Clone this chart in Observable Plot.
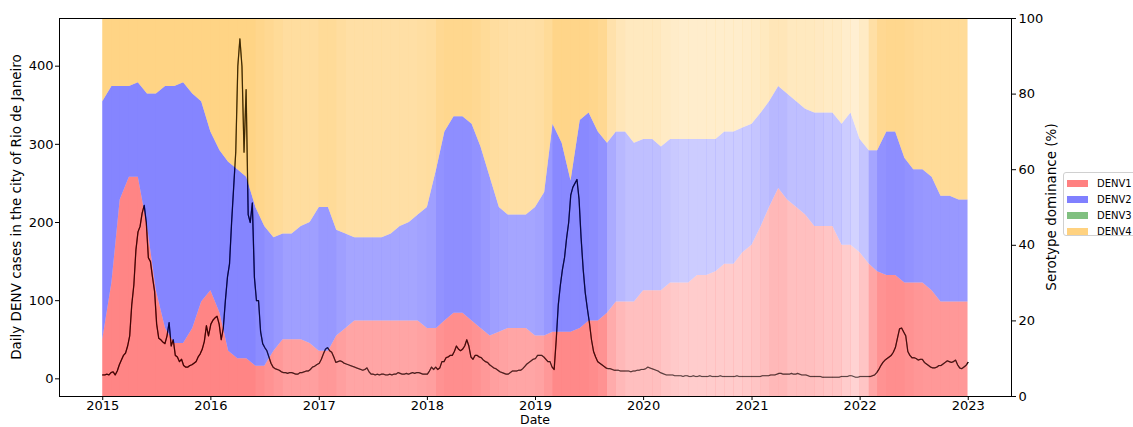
<!DOCTYPE html>
<html><head><meta charset="utf-8">
<script src="https://cdn.jsdelivr.net/npm/d3@7"></script>
<script src="https://cdn.jsdelivr.net/npm/@observablehq/plot@0.6"></script>
<style>
body{margin:0;background:#fff;overflow:hidden;font-family:"DejaVu Sans",sans-serif;}
#wrap{position:relative;width:1133px;height:427px;overflow:hidden;}
.layer{position:absolute;left:0;top:0;}
.lbl{position:absolute;font-size:13.5px;color:#000;white-space:nowrap;line-height:1;}
.rot{transform:translate(-50%,-50%) rotate(-90deg);}
.hc{transform:translate(-50%,-50%);font-size:12.5px;}
#legend{position:absolute;left:1063px;top:172px;width:90px;height:64px;border:1px solid #d0d0d0;border-radius:3px;background:#fff;padding-top:2px;box-sizing:border-box;}
.row{height:16px;display:flex;align-items:center;padding-left:3px;font-size:10px;color:#000;}
.sw{width:21px;height:7px;margin-right:9px;}
</style></head><body>
<div id="wrap"></div>
<script>
// ---------- data ----------
const years = [2015, 2016, 2017, 2018, 2019, 2020, 2021, 2022];
const serotypes = ["DENV1", "DENV2", "DENV3", "DENV4"];
const serotypeColors = ["red", "blue", "green", "orange"];
const leftTicks = [0, 100, 200, 300, 400];
const rightTicks = [0, 20, 40, 60, 80, 100];
const yearTicks = [2015, 2016, 2017, 2018, 2019, 2020, 2021, 2022, 2023];

// daily DENV cases, sampled weekly from Jan 1 of each year
const cases2015 = [5,5,6,5,8,9,5,10,18,24,30,33,42,55,95,120,165,188,195,212,222,200,155,150,130,112,70,52,50,47,45,55,72,42,50,30,28,22,25,17,15,15,17,18,20,22,28,32,38,48,68,55];
const cases2016 = [70,75,78,80,70,50,65,100,130,147,200,245,290,400,435,400,290,370,210,200,225,130,100,100,60,45,40,36,28,20,15,13,12,11,9,8,8,7,8,8,7,6,6,8,8,9,10,10,12,15,16,18];
const cases2017 = [20,25,32,38,40,36,34,28,21,22,23,22,20,19,18,17,16,15,14,13,12,11,12,14,9,6,6,5,6,5,6,6,5,5,6,5,6,6,8,7,6,6,7,6,7,8,7,8,8,7,6,6];
const cases2018 = [6,10,15,12,15,12,14,22,22,27,28,30,30,35,42,38,36,38,42,50,42,28,25,30,30,28,27,24,22,21,18,16,14,13,11,9,8,7,6,6,8,10,10,10,11,11,13,16,19,21,23,25];
const cases2019 = [26,30,30,30,28,25,22,22,15,12,50,95,120,140,155,180,200,235,245,250,255,230,180,140,110,90,72,50,35,28,22,20,18,16,14,13,13,12,11,11,11,10,10,10,10,10,9,10,10,11,11,12];
const cases2020 = [12,13,15,14,13,12,11,10,8,7,6,5,5,5,5,4,4,4,4,3,4,4,3,3,4,3,3,4,3,3,3,3,4,3,3,3,3,4,3,3,3,3,3,3,3,4,3,3,3,3,3,3];
const cases2021 = [3,3,3,3,3,4,4,4,4,5,5,5,6,7,7,6,6,6,6,7,6,6,7,6,5,5,5,4,3,3,3,3,3,3,2,2,2,2,2,2,2,2,2,3,3,3,3,4,4,3,2,2];
const cases2022 = [3,3,3,3,3,3,4,5,8,12,17,21,24,26,28,30,34,40,52,64,65,60,55,35,30,27,27,26,24,25,25,21,19,17,15,14,14,15,17,17,19,21,23,22,21,22,24,18,14,13,15,17,21];
const casesByYear = [cases2015, cases2016, cases2017, cases2018, cases2019, cases2020, cases2021, cases2022];

// serotype dominance (%), at the start of each month Jan 2015 .. Dec 2022, plus 31 Dec 2022
const denv1 = [
 15,30,52,58,58,45,28,18,14,14,18,25,
 28,22,12,10,10,8,8,12,15,15,15,14,
 12,12,16,18,20,20,20,20,20,20,20,20,
 18,18,20,22,22,20,18,16,17,18,18,18,
 16,16,17,17,17,18,20,20,22,25,25,25,
 28,28,28,30,30,30,32,32,33,35,35,38,
 40,45,50,55,52,50,48,45,45,45,40,40,
 38,35,33,32,32,30,30,30,28,25,25,25, 25];
const denv2 = [
 63,52,30,24,25,35,52,64,68,69,62,53,
 42,43,50,50,48,42,37,30,28,28,30,32,
 38,38,28,25,22,22,22,22,23,25,26,28,
 32,42,50,52,52,52,48,42,33,30,30,30,
 34,38,55,50,40,55,55,50,45,45,45,42,
 40,40,38,38,38,38,36,36,35,35,35,33,
 32,30,28,27,28,28,28,30,30,30,32,35,
 30,30,32,38,38,33,30,30,30,28,28,27, 27];
const denv3 = [
 0,0,0,0,0,0,0,0,0,0,0,0,
 0,0,0,0,0,0,0,0,0,0,0,0,
 0,0,0,0,0,0,0,0,0,0,0,0,
 0,0,0,0,0,0,0,0,0,0,0,0,
 0,0,0,0,0,0,0,0,0,0,0,0,
 0,0,0,0,0,0,0,0,0,0,0,0,
 0,0,0,0,0,0,0,0,0,0,0,0,
 0,0,0,0,0,0,0,0,0,0,0,0, 0];
const denv4 = [
 22,18,18,18,17,20,20,18,18,17,20,22,
 30,35,38,40,42,50,55,58,57,57,55,54,
 50,50,56,57,58,58,58,58,57,55,54,52,
 50,40,30,26,26,28,34,42,50,52,52,52,
 50,46,28,33,43,27,25,30,33,30,30,33,
 32,32,34,32,32,32,32,32,32,30,30,29,
 28,25,22,18,20,22,24,25,25,25,28,25,
 32,35,35,30,30,37,40,40,42,47,47,48, 48];
// share of days in each month that carry serotype data
const coverage = [
 .95,.95,.95,.95,.95,.95,.95,.95,.95,.95,.95,.95,
 .95,.95,.95,.95,.95,.9,.85,.8,.75,.75,.75,.75,
 .8,.8,.75,.7,.7,.7,.7,.7,.7,.7,.7,.72,
 .75,.85,.88,.88,.88,.85,.8,.75,.72,.7,.7,.7,
 .72,.8,.92,.92,.92,.92,.9,.85,.65,.55,.5,.5,
 .5,.5,.45,.42,.4,.4,.4,.4,.4,.4,.4,.42,
 .45,.5,.55,.55,.5,.5,.5,.48,.45,.45,.4,.35,
 .45,.7,.85,.88,.88,.85,.82,.8,.8,.8,.8,.8];

// ---------- tables ----------
const casesData = years.flatMap((y, i) => casesByYear[i].map((v, k) => ({
  date: d3.utcDay.offset(new Date(Date.UTC(y, 0, 1)), 7 * k), value: v })));
const monthDates = d3.utcMonth.range(new Date(Date.UTC(2015, 0, 1)), new Date(Date.UTC(2023, 0, 1)));
monthDates.push(new Date(Date.UTC(2022, 11, 31)));
const seroArrays = [denv1, denv2, denv3, denv4];
const comp = serotypes.flatMap((s, j) => monthDates.map((d, i) => ({date: d, serotype: s, pct: seroArrays[j][i]})));
const haze = monthDates.slice(0, -1).map((d, i) => ({x1: d, x2: monthDates[i + 1], cov: coverage[i]}));

// ---------- layout ----------
const W = 1133, H = 427;
const common = {
  width: W, height: H, marginLeft: 59, marginRight: 122, marginTop: 18, marginBottom: 31,
  style: {fontFamily: "DejaVu Sans, sans-serif", fontSize: "13px", background: "transparent", color: "black"}
};
const xDomain = [new Date(Date.UTC(2014, 7, 8)), new Date(Date.UTC(2023, 4, 27))];
const yCases = [-22.6, 461];

const layer1 = Plot.plot({
  ...common,
  x: {type: "utc", domain: xDomain},
  y: {domain: yCases},
  marks: [
    Plot.axisX(yearTicks.map(y => new Date(Date.UTC(y, 0, 1))), {tickFormat: d3.utcFormat("%Y"), tickSize: 4, tickPadding: 0, label: null}),
    Plot.axisY(leftTicks, {tickSize: 4, tickPadding: 2, label: null}),
    Plot.line(casesData, {x: "date", y: "value", stroke: "black", strokeWidth: 1.3})
  ]
});

const layer2 = Plot.plot({
  ...common,
  x: {type: "utc", domain: xDomain, axis: null},
  y: {domain: [0, 100]},
  color: {domain: serotypes, range: serotypeColors},
  marks: [
    Plot.areaY(comp, Plot.stackY({x: "date", y: "pct", fill: "serotype", order: serotypes, fillOpacity: 0.5})),
    Plot.rect(haze, {x1: "x1", x2: "x2", fill: "white", fillOpacity: d => 1 - d.cov}),
    Plot.axisY(rightTicks, {anchor: "right", tickSize: 4, tickPadding: 3, label: null}),
    Plot.frame({stroke: "black", strokeWidth: 1})
  ]
});

const layer3 = Plot.plot({
  ...common,
  x: {type: "utc", domain: xDomain, axis: null},
  y: {domain: yCases, axis: null},
  marks: [
    Plot.line(casesData, {x: "date", y: "value", stroke: "black", strokeWidth: 1.1, strokeOpacity: 0.55})
  ]
});

const wrap = document.getElementById("wrap");
for (const l of [layer1, layer2, layer3]) { l.classList.add("layer"); wrap.appendChild(l); }

function label(text, x, y, cls) {
  const d = document.createElement("div");
  d.className = "lbl " + cls; d.textContent = text;
  d.style.left = x + "px"; d.style.top = y + "px";
  wrap.appendChild(d);
}
label("Daily DENV cases in the city of Rio de Janeiro", 17, 207, "rot");
label("Serotype dominance (%)", 1052, 207, "rot");
label("Date", 535, 420, "hc");

const legend = document.createElement("div");
legend.id = "legend";
const swatchFills = ["#ff8080", "#8080ff", "#80c080", "#ffd280"];
serotypes.forEach((s, i) => {
  const r = document.createElement("div"); r.className = "row";
  const sw = document.createElement("span"); sw.className = "sw"; sw.style.background = swatchFills[i];
  const t = document.createElement("span"); t.textContent = s;
  r.appendChild(sw); r.appendChild(t); legend.appendChild(r);
});
wrap.appendChild(legend);
</script></body></html>
